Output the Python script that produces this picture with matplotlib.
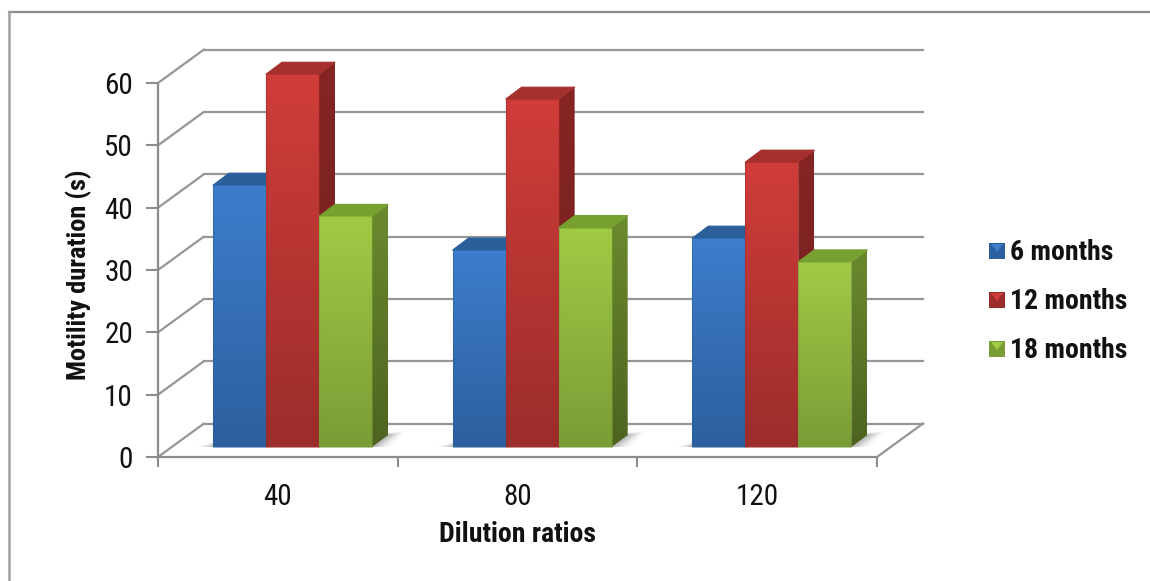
import matplotlib
matplotlib.use("Agg")
import matplotlib.pyplot as plt
import numpy as np
from matplotlib.patches import Polygon, Rectangle
from matplotlib.colors import LinearSegmentedColormap
from matplotlib import font_manager as fm

fonts = fm.fontManager.ttflist
def pick(cands, bold):
    for n in cands:
        for f in fonts:
            w = f.weight if isinstance(f.weight, int) else (700 if f.weight == 'bold' else 400)
            if f.name == n and ((w >= 600) == bold):
                return n
    return 'Liberation Sans'
REG = pick(['Liberation Sans Narrow', 'Arial Narrow', 'Roboto Condensed', 'Archivo Narrow'], False)
BLD = pick(['Liberation Sans Narrow', 'Arial Narrow', 'Roboto Condensed', 'PT Sans Narrow', 'Archivo Narrow'], True)
narrow = REG != 'Liberation Sans'
narrow_b = BLD != 'Liberation Sans'
plt.rcParams['font.family'] = [REG]

categories = ['40', '80', '120']
series_names = ['6 months', '12 months', '18 months']
months_6 = [42, 31.6, 33.5]
months_12 = [59.8, 55.8, 45.7]
months_18 = [37, 35.2, 29.7]
y_ticks = [0, 10, 20, 30, 40, 50, 60]

W, H = 1150, 581
fig = plt.figure(figsize=(W/100, H/100), dpi=100, facecolor='white')

fig.add_artist(plt.Line2D([9/W, 1], [1-12/H, 1-12/H], transform=fig.transFigure, color='#8c8c8c', lw=1.6))
fig.add_artist(plt.Line2D([9/W, 9/W], [0, 1-12/H], transform=fig.transFigure, color='#a0a0a0', lw=1.8))

x0, x1, y0, y1 = 158, 877, 457, 83
ax = fig.add_axes([x0/W, 1-y0/H, (x1-x0)/W, (y0-y1)/H])
ax.set_xlim(0, 3)
ax.set_ylim(0, 60)
ax.patch.set_alpha(0)
for s in ['top', 'right']:
    ax.spines[s].set_visible(False)
for s in ['left', 'bottom']:
    ax.spines[s].set_color('#8c8c8c')
    ax.spines[s].set_linewidth(1.6)
ux = (x1-x0)/3
uy = (y0-y1)/60
def px(dx, dy):
    return dx/ux, dy/uy

grid_c = '#969696'
wdx, wdy = px(46, 33.5)
for v in y_ticks:
    ax.plot([0, wdx], [v, v+wdy], color=grid_c, lw=1.6, clip_on=False, zorder=1, solid_capstyle='round')
    ax.plot([wdx, 3+wdx], [v+wdy, v+wdy], color=grid_c, lw=1.6, clip_on=False, zorder=1)
ax.plot([3, 3+wdx], [0, wdy], color=grid_c, lw=1.6, clip_on=False, zorder=1)

fs = 21 if narrow else 18
fsb = 20 if narrow_b else 17.5
fsy = 19 if narrow_b else 17
ax.set_xticks([0, 1, 2, 3])
ax.set_xticklabels([])
ax.set_yticks(y_ticks)
ax.tick_params(axis='y', length=9, width=1.5, color='#8c8c8c', labelsize=fs, pad=9, labelcolor='#111111')
ax.tick_params(axis='x', length=7, width=1.5, color='#8c8c8c')
for i, c in enumerate(categories):
    ax.text(i+0.5, -40/uy, c, ha='center', va='center', fontsize=fs, color='#111111', clip_on=False)
ax.text(1.5, -78/uy, 'Dilution ratios', ha='center', va='center', fontsize=fsb, family=BLD,
        fontweight='bold', clip_on=False, color='#111111')
ax.text(-79/ux, 29.2, 'Motility duration (s)', rotation=90, ha='center', va='center', fontsize=fsy, family=BLD,
        fontweight='bold', clip_on=False, color='#111111')

palettes = [
    dict(front=('#3e7dcc', '#2c5f9e'), top='#2b5f9c', side=('#24538c', '#1f4778')),
    dict(front=('#d03d3a', '#9b2d2b'), top='#a52f2d', side=('#862524', '#6f1f1e')),
    dict(front=('#a1cb45', '#7a9c36'), top='#76a02f', side=('#6b8a2e', '#4c6320')),
]
values = [months_6, months_12, months_18]
bw = 53/ux
bdx, bdy = px(16, 12)
base = 10/uy
lead = (213-158)/ux

def shade(poly_xy, cols, zorder):
    cm = LinearSegmentedColormap.from_list('c', list(cols))
    xs, ys = zip(*poly_xy)
    g = np.linspace(0, 1, 256).reshape(-1, 1)
    im = ax.imshow(g, cmap=cm, extent=(min(xs), max(xs), min(ys), max(ys)), aspect='auto',
                   origin='upper', zorder=zorder, interpolation='bilinear')
    p = Polygon(poly_xy, closed=True, transform=ax.transData, fc='none', ec='none')
    ax.add_patch(p)
    p.set_clip_on(False)
    im.set_clip_box(fig.bbox)
    im.set_clip_path(p)

for cat in range(len(categories)):
    left = cat + lead
    sl = left + 3*bw
    for e, a in zip([16, 12, 8, 4, 0], [0.08, 0.12, 0.18, 0.25, 0.32]):
        ax.add_patch(Polygon([(left-e/ux, base), (sl+e/ux, base),
                              (sl+bdx+(e+1)/ux, base+bdy+(e*0.2)/uy), (left+bdx-(e*0.3)/ux, base+bdy*0.7)],
                             closed=True, fc='#808080', ec='none', alpha=a, zorder=2, clip_on=False))
    for s in range(3):
        v = values[s][cat]
        l = left + s*bw
        r = l + bw
        pal = palettes[s]
        top = base + v
        z = 3 + s*0.1
        shade([(r, base), (r+bdx, base+bdy), (r+bdx, top+bdy), (r, top)], pal['side'], z)
        ax.add_patch(Polygon([(l, top), (r, top), (r+bdx, top+bdy), (l+bdx, top+bdy)], closed=True,
                             fc=pal['top'], ec=pal['top'], lw=0.8, joinstyle='round', zorder=z, clip_on=False))
        shade([(l, base), (r, base), (r, top), (l, top)], pal['front'], z+0.01)
        ax.add_patch(Rectangle((l, base), bw, v, fc='none', ec=pal['front'][1], alpha=0.5, lw=0.8,
                               zorder=z+0.02, clip_on=False))

ax.set_xlim(0, 3)
ax.set_ylim(0, 60)

leg_y = [251, 300, 349]
for yc, pal, name in zip(leg_y, palettes, series_names):
    lx = 997
    fig.add_artist(Rectangle(((lx-8)/W, 1-(yc+8)/H), 16/W, 16/H, transform=fig.transFigure,
                             fc=pal['front'][1], ec='none'))
    fig.add_artist(Polygon([((lx-6)/W, 1-(yc-7)/H), ((lx+6)/W, 1-(yc-7)/H), (lx/W, 1-(yc+1)/H)],
                           closed=True, transform=fig.transFigure, fc=pal['front'][0], ec='none'))
    fig.text(1010/W, 1-(yc+1.5)/H, name, ha='left', va='center', fontsize=fsb, family=BLD, fontweight='bold',
             color='#111111')

fig.savefig('out.png', dpi=100)
